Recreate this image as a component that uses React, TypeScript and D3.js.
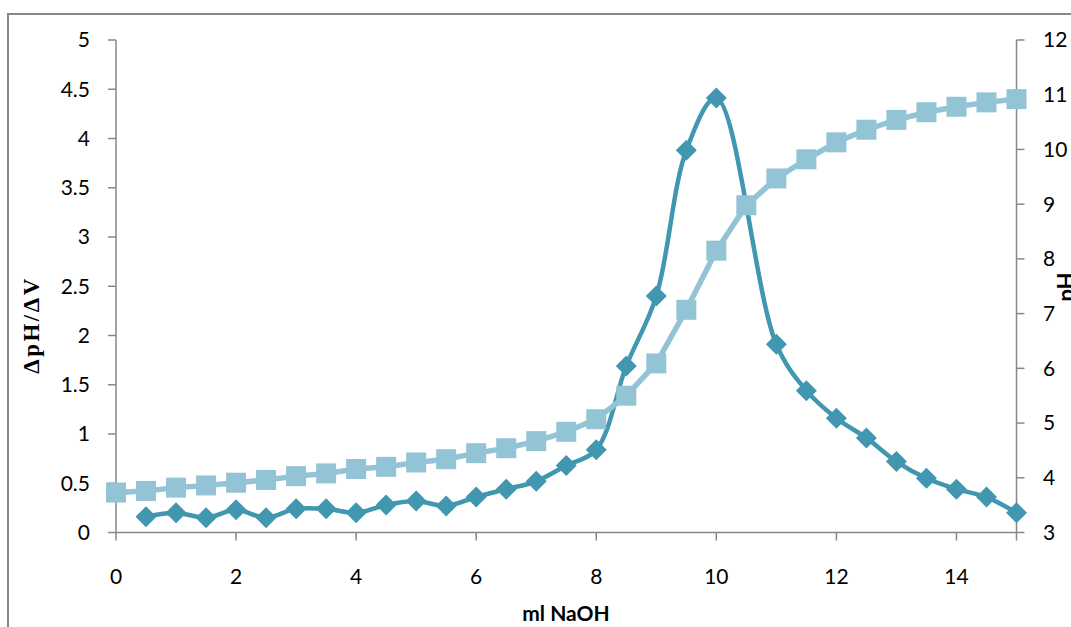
import React from "react";
import * as d3 from "d3";

const phX = [0, 0.5, 1, 1.5, 2, 2.5, 3, 3.5, 4, 4.5, 5, 5.5, 6, 6.5, 7, 7.5, 8, 8.5, 9, 9.5, 10, 10.5, 11, 11.5, 12, 12.5, 13, 13.5, 14, 14.5, 15];
const phY = [3.73, 3.76, 3.82, 3.86, 3.91, 3.96, 4.03, 4.08, 4.16, 4.2, 4.28, 4.34, 4.45, 4.54, 4.67, 4.84, 5.07, 5.5, 6.09, 7.07, 8.15, 8.98, 9.47, 9.82, 10.13, 10.36, 10.54, 10.68, 10.78, 10.86, 10.92];
const dX = [0.5, 1, 1.5, 2, 2.5, 3, 3.5, 4, 4.5, 5, 5.5, 6, 6.5, 7, 7.5, 8, 8.5, 9, 9.5, 10, 11, 11.5, 12, 12.5, 13, 13.5, 14, 14.5, 15];
const dY = [0.16, 0.2, 0.15, 0.23, 0.15, 0.24, 0.24, 0.2, 0.28, 0.32, 0.27, 0.36, 0.44, 0.52, 0.68, 0.84, 1.69, 2.4, 3.88, 4.41, 1.91, 1.44, 1.16, 0.96, 0.72, 0.55, 0.44, 0.36, 0.2];
const xTicks = [0, 2, 4, 6, 8, 10, 12, 14];
const leftTicks = [0, 0.5, 1, 1.5, 2, 2.5, 3, 3.5, 4, 4.5, 5];
const rightTicks = [3, 4, 5, 6, 7, 8, 9, 10, 11, 12];

const W = 1071, H = 627;
const L = 116, R = 1016.5, T = 40, B = 532.5;
const DARK = "#4197AF";
const LIGHT = "#93C4D6";
const AXIS = "#878787";
const SANS = "Lato, 'Open Sans', sans-serif";

export default function App() {
  const x = d3.scaleLinear().domain([0, 15]).range([L, R]);
  const yL = d3.scaleLinear().domain([0, 5]).range([B, T]);
  const yR = d3.scaleLinear().domain([3, 12]).range([B, T]);

  const dPts: [number, number][] = dX.map((v, i) => [x(v), yL(dY[i])]);
  const pPts: [number, number][] = phX.map((v, i) => [x(v), yR(phY[i])]);
  const dLine = d3.line().curve(d3.curveCatmullRom.alpha(0.5))(dPts) || "";
  const pLine = d3.line()(pPts) || "";

  return (
    <div style={{ position: "absolute", left: 0, top: 0, width: W, height: H, overflow: "hidden", background: "#fff" }}>
      <svg width={W} height={H} style={{ display: "block" }}>
        <rect x={8} y={14} width={W + 20} height={H + 20} fill="#fff" stroke={AXIS} strokeWidth={2} />
        {/* axes */}
        <line x1={L} x2={L} y1={T} y2={B} stroke={AXIS} strokeWidth={1.5} />
        <line x1={R} x2={R} y1={T} y2={B} stroke={AXIS} strokeWidth={1.5} />
        <line x1={L} x2={R} y1={B} y2={B} stroke={AXIS} strokeWidth={1.5} />
        {leftTicks.map((t) => (
          <g key={"l" + t}>
            <line x1={L - 8} x2={L} y1={yL(t)} y2={yL(t)} stroke={AXIS} strokeWidth={1.5} />
            <text x={90} y={yL(t)} dy="0.35em" textAnchor="end" fontFamily={SANS} fontSize={21} fill="#000">{t}</text>
          </g>
        ))}
        {rightTicks.map((t) => (
          <g key={"r" + t}>
            <line x1={R} x2={R + 8} y1={yR(t)} y2={yR(t)} stroke={AXIS} strokeWidth={1.5} />
            <text x={1043} y={yR(t)} dy="0.35em" textAnchor="start" fontFamily={SANS} fontSize={21} fill="#000">{t}</text>
          </g>
        ))}
        {[...xTicks, 15].map((t) => (
          <line key={"xt" + t} x1={x(t)} x2={x(t)} y1={B} y2={B + 8} stroke={AXIS} strokeWidth={1.5} />
        ))}
        {xTicks.map((t) => (
          <text key={"xl" + t} x={x(t)} y={584} textAnchor="middle" fontFamily={SANS} fontSize={21} fill="#000">{t}</text>
        ))}
        {/* titles */}
        <text x={566} y={621} textAnchor="middle" fontFamily={SANS} fontWeight="bold" fontSize={21} fill="#000">ml NaOH</text>
        <text transform="translate(39,325) rotate(-90)" textAnchor="middle" fontFamily="'Liberation Serif', 'Times New Roman', serif" fontWeight="bold" fontSize={23} letterSpacing={2.5} fill="#000">ΔpH/ΔV</text>
        <text transform="translate(1074,287) rotate(-90)" textAnchor="middle" fontFamily={SANS} fontWeight="bold" fontSize={22} fill="#000">pH</text>
        {/* derivative series */}
        <path d={dLine} fill="none" stroke={DARK} strokeWidth={4.5} />
        {dPts.map(([px, py], i) => (
          <path key={"d" + i} d={`M${px},${py - 10.5}L${px + 10.5},${py}L${px},${py + 10.5}L${px - 10.5},${py}Z`} fill={DARK} />
        ))}
        {/* pH series */}
        <path d={pLine} fill="none" stroke={LIGHT} strokeWidth={5.5} />
        {pPts.map(([px, py], i) => (
          <rect key={"p" + i} x={px - 10} y={py - 10} width={20} height={20} fill={LIGHT} />
        ))}
      </svg>
    </div>
  );
}
